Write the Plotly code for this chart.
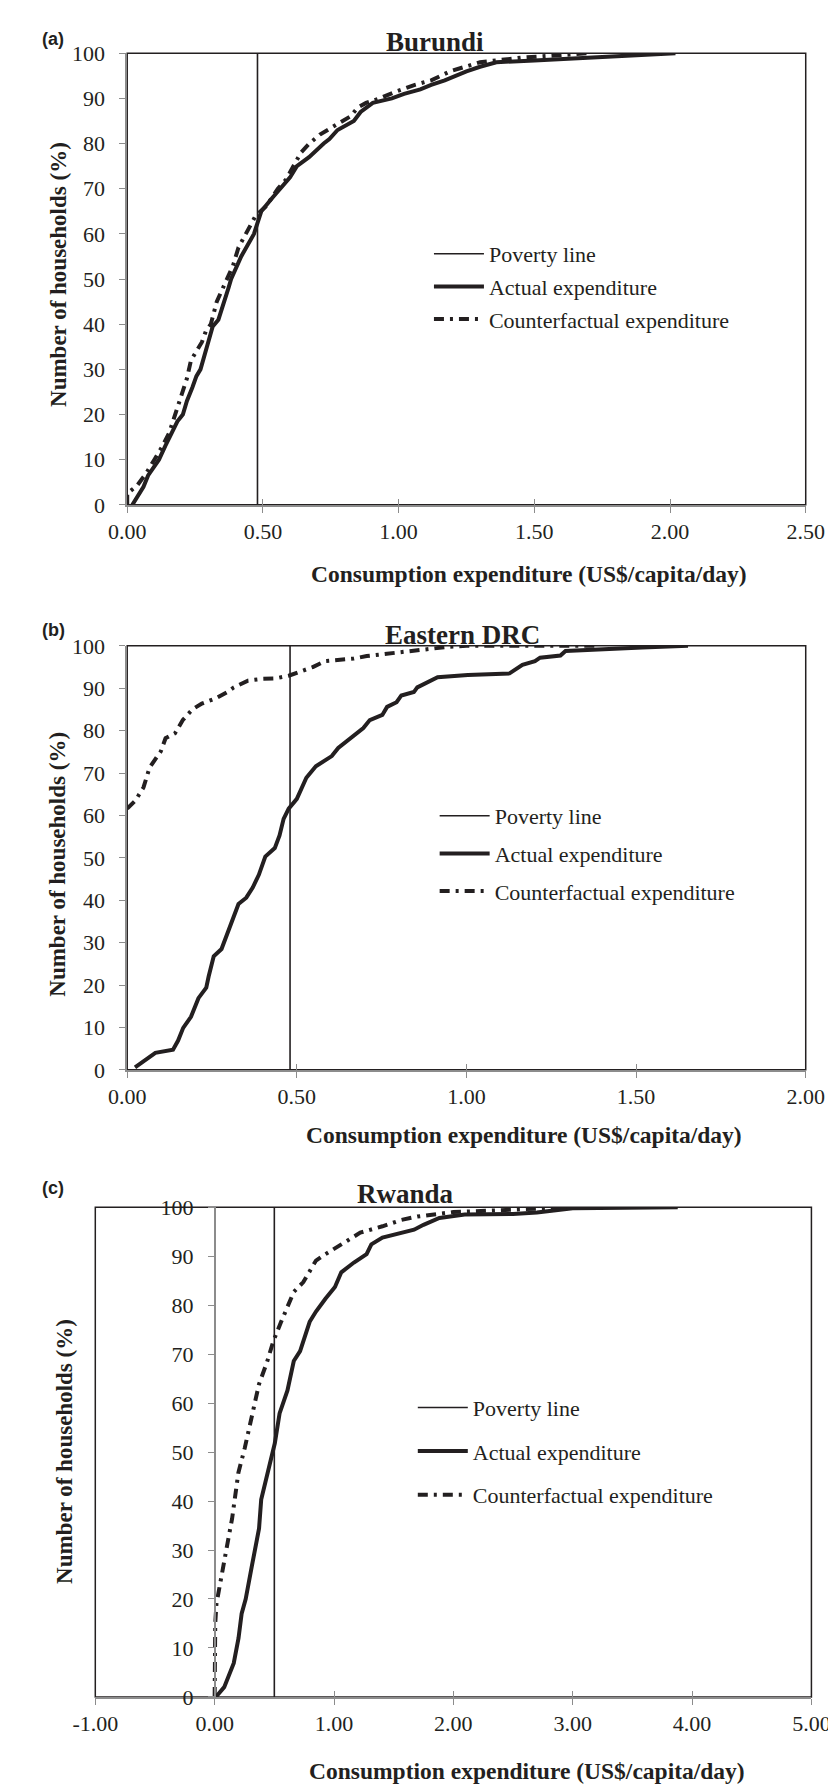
import plotly.graph_objects as go

W, H = 836, 1790
INK = "#231f20"
GRAY = "#8c8c8c"
SERIF = "Liberation Serif"

# ---------------- data ----------------
poverty_line = [0.48, 0.48, 0.50]

bur_act_x = [0.019, 0.04, 0.06, 0.077, 0.095, 0.117, 0.14, 0.165, 0.185, 0.205, 0.22, 0.24, 0.255, 0.27, 0.285,
             0.30, 0.315, 0.336, 0.355, 0.373, 0.383, 0.42, 0.467, 0.494, 0.535, 0.566, 0.60, 0.625, 0.67, 0.724,
             0.745, 0.775, 0.835, 0.86, 0.905, 0.975, 1.02, 1.08, 1.12, 1.17, 1.25, 1.30, 1.36, 1.50, 1.68, 1.85, 2.02]
bur_act_y = [0, 2, 4, 6.5, 8, 10, 13, 16, 18.5, 20, 23, 26, 28.5, 30, 33,
             36, 39.5, 41, 45, 48, 50, 55, 60, 65, 68, 70, 72.5, 75, 77, 80,
             81, 83, 85, 87, 89, 90, 91, 92, 93, 94, 96, 97, 98, 98.4, 99, 99.6, 100]
bur_cf_x = [0, 0, 0.037, 0.07, 0.10, 0.13, 0.155, 0.177, 0.20, 0.22, 0.235, 0.255, 0.275, 0.29, 0.308, 0.33,
            0.36, 0.368, 0.39, 0.41, 0.438, 0.455, 0.473, 0.51, 0.555, 0.585, 0.613, 0.64, 0.671, 0.71, 0.752,
            0.79, 0.822, 0.85, 0.88, 0.93, 0.99, 1.06, 1.12, 1.19, 1.25, 1.30, 1.45, 1.60, 1.70]
bur_cf_y = [0, 2.5, 4.3, 7, 10, 13, 16, 20, 24, 28, 32, 34, 36, 38.5, 40, 45,
            49, 50, 53, 57, 60, 62, 64, 66, 70, 72, 75, 78, 80, 82, 83.5,
            85, 86, 88, 89, 90, 91.5, 93, 94, 96, 97, 98, 99, 99.5, 100]

drc_act_x = [0.023, 0.06, 0.083, 0.135, 0.15, 0.165, 0.188, 0.21, 0.233, 0.24, 0.255, 0.278, 0.293, 0.316, 0.328,
             0.351, 0.37, 0.388, 0.407, 0.435, 0.449, 0.461, 0.476, 0.50, 0.519, 0.528, 0.556, 0.603, 0.622, 0.659,
             0.696, 0.715, 0.752, 0.766, 0.794, 0.808, 0.845, 0.855, 0.883, 0.915, 1.004, 1.127, 1.165, 1.202, 1.217,
             1.277, 1.292, 1.367, 1.518, 1.653]
drc_act_y = [0.6, 2.6, 4.0, 4.75, 6.9, 9.9, 12.5, 16.9, 19.4, 22, 26.8, 28.5, 31.5, 36.3, 39.1,
             40.6, 43, 46, 50.3, 52.3, 55.3, 59.2, 61.6, 63.9, 67, 68.9, 71.6, 74, 75.9, 78.2,
             80.6, 82.5, 83.7, 85.6, 86.7, 88.3, 89.1, 90.2, 91.4, 92.6, 93.1, 93.5, 95.5, 96.4, 97.2,
             97.7, 98.8, 99.1, 99.6, 100]
drc_cf_x = [0, 0.024, 0.048, 0.066, 0.099, 0.113, 0.141, 0.164, 0.192, 0.22, 0.258, 0.295, 0.314, 0.356, 0.398,
            0.435, 0.476, 0.519, 0.547, 0.584, 0.631, 0.668, 0.706, 0.752, 0.827, 0.892, 0.95, 1.0, 1.38]
drc_cf_y = [61.6, 63.5, 66.6, 71.3, 75.1, 78.2, 79.4, 82.5, 85, 86.4, 87.5, 89.1, 90.2, 91.8, 92.2,
            92.3, 92.95, 94.1, 95, 96.4, 96.8, 97, 97.6, 98, 98.8, 99.4, 99.8, 100, 100]

rwa_act_x = [0.01, 0.08, 0.16, 0.20, 0.226, 0.26, 0.31, 0.35, 0.372, 0.39, 0.411, 0.45, 0.464, 0.504, 0.544,
             0.61, 0.663, 0.716, 0.796, 0.849, 0.928, 1.008, 1.061, 1.167, 1.273, 1.313, 1.406, 1.512, 1.671,
             1.75, 1.883, 2.095, 2.50, 2.70, 3.00, 3.88]
rwa_act_y = [0, 2, 6.9, 12, 17, 20, 26.5, 32.2, 34.4, 40.3, 42.4, 47, 47.8, 51.8, 57.9,
             62.6, 68.6, 70.6, 76.6, 78.7, 81.3, 83.7, 86.7, 88.7, 90.4, 92.4, 93.8, 94.4, 95.4,
             96.4, 97.8, 98.5, 98.6, 98.9, 99.8, 100]
rwa_cf_x = [0, 0, 0.002, 0.005, 0.015, 0.05, 0.09, 0.12, 0.146, 0.173, 0.199, 0.252, 0.292, 0.332, 0.372,
            0.438, 0.491, 0.557, 0.61, 0.663, 0.743, 0.809, 0.849, 0.928, 1.061, 1.22, 1.406, 1.565, 1.698,
            1.857, 2.0, 2.3, 2.7, 3.0]
rwa_cf_y = [0, 5, 10, 15, 19, 24, 29, 33, 36.4, 41.8, 45.8, 50.8, 55.2, 59.5, 63.9,
            68.3, 72.6, 76.6, 79.7, 82.7, 84.7, 87.4, 89.1, 90.4, 92.4, 94.8, 96.1, 97.4, 98.1,
            98.5, 99, 99.3, 99.7, 100]

panel_titles = ["Burundi", "Eastern DRC", "Rwanda"]
panel_tags = ["(a)", "(b)", "(c)"]
x_ranges = [[0, 2.5], [0, 2.0], [-1, 5]]
x_ticks = [[0, 0.5, 1.0, 1.5, 2.0, 2.5], [0, 0.5, 1.0, 1.5, 2.0], [-1, 0, 1, 2, 3, 4, 5]]
y_ticks = list(range(0, 101, 10))
series_names = ["Poverty line", "Actual expenditure", "Counterfactual expenditure"]
x_title = "Consumption expenditure (US$/capita/day)"
y_title = "Number of households (%)"

curves = [(bur_act_x, bur_act_y, bur_cf_x, bur_cf_y),
          (drc_act_x, drc_act_y, drc_cf_x, drc_cf_y),
          (rwa_act_x, rwa_act_y, rwa_cf_x, rwa_cf_y)]

# ---------------- layout geometry (pixels) ----------------
plot_px = [  # left, right, top, bottom
    (101.3, 815.7, 33.7, 491.7),
    (101.3, 815.7, 634.7, 1064.7),
    (67.7, 821.7, 1204.0, 1700.7),
]
legend_px = [(419, 216, 1), (425, 786, 6), (402, 1386, 12)]
title_px = [(425, 40), (454, 641), (394, 1208)]
tag_px = [(10, 19), (10, 619), (10, 1185)]
ytitle_px = [(29, 258), (27, 856), (36, 1452)]
xtitle_px = [(524, 562), (519, 1131), (522, 1776)]

fx = lambda px: px / W
fy = lambda py: 1 - py / H

fig = go.Figure()
layout = dict(width=W, height=H, margin=dict(l=0, r=0, t=0, b=0), autosize=False,
              paper_bgcolor="white", plot_bgcolor="white", showlegend=True,
              font=dict(family=SERIF, size=22, color=INK))
shapes, annotations = [], []

for i in range(3):
    n = i + 1
    sfx = "" if n == 1 else str(n)
    xa, ya = "x" + sfx, "y" + sfx
    ov = "x" + str(n + 3)
    leg = "legend" + sfx
    l, r, t, b = plot_px[i]
    ax, ay, cfx, cfy = curves[i]
    pl = poverty_line[i]

    fig.add_trace(go.Scatter(x=[pl, pl], y=[0, 100], mode="lines", name=series_names[0],
                             line=dict(color=INK, width=1.6), xaxis=ov, yaxis=ya,
                             legend=leg, legendgroup=f"p{n}a", hoverinfo="skip"))
    fig.add_trace(go.Scatter(x=ax, y=ay, mode="lines", name=series_names[1],
                             line=dict(color=INK, width=4), xaxis=xa, yaxis=ya,
                             legend=leg, legendgroup=f"p{n}b"))
    fig.add_trace(go.Scatter(x=cfx, y=cfy, mode="lines", name=series_names[2],
                             line=dict(color=INK, width=4, dash="10px,6px,3px,6px"),
                             xaxis=xa, yaxis=ya, legend=leg, legendgroup=f"p{n}c"))

    tickfont = dict(family=SERIF, size=22, color=INK)
    layout["xaxis" + sfx] = dict(domain=[fx(l), fx(r)], range=x_ranges[i], anchor=ya,
                                 tickvals=x_ticks[i], ticktext=[f"{v:.2f}" for v in x_ticks[i]],
                                 showline=True, linecolor=GRAY, linewidth=2,
                                 ticks="outside", ticklen=6, tickcolor=GRAY, tickwidth=1.2,
                                 showgrid=False, zeroline=False, tickfont=tickfont,
                                 ticklabelstandoff=0, fixedrange=True)
    layout["xaxis" + str(n + 3)] = dict(domain=[fx(l), fx(r)], range=x_ranges[i], anchor=ya,
                                        overlaying=xa, tickvals=x_ticks[i],
                                        showticklabels=False, showline=False,
                                        ticks="inside", ticklen=6, tickcolor=GRAY, tickwidth=1.2,
                                        showgrid=False, zeroline=False, fixedrange=True)
    yd = dict(domain=[fy(b), fy(t)], range=[0, 100], tickvals=y_ticks,
              showline=True, linecolor=GRAY, linewidth=1.5,
              ticks="outside", ticklen=6, tickcolor=GRAY, tickwidth=1.2,
              showgrid=False, zeroline=False, tickfont=tickfont,
              ticklabelstandoff=10, fixedrange=True)
    if i == 2:
        yd.update(anchor="free", position=fx(l + (0 - x_ranges[i][0]) / (x_ranges[i][1] - x_ranges[i][0]) * (r - l)))
    else:
        yd.update(anchor=xa)
    layout["yaxis" + sfx] = yd

    # black plot frame
    shapes.append(dict(type="rect", xref=xa + " domain", yref=ya + " domain", x0=0, x1=1, y0=0, y1=1,
                       line=dict(color=INK, width=1.5), layer="below"))

    lx, ly, gap = legend_px[i]
    layout[leg] = dict(x=fx(lx), y=fy(ly), xanchor="left", yanchor="top",
                       bgcolor="rgba(0,0,0,0)", borderwidth=0, itemwidth=50,
                       font=dict(family=SERIF, size=22, color=INK),
                       traceorder="grouped", tracegroupgap=gap)

    tx, ty = title_px[i]
    annotations.append(dict(text="<b>" + panel_titles[i] + "</b>", x=fx(tx), y=fy(ty),
                            xref="paper", yref="paper", xanchor="center", yanchor="bottom",
                            showarrow=False, font=dict(family=SERIF, size=27, color=INK)))
    gx, gy = tag_px[i]
    annotations.append(dict(text="<b>" + panel_tags[i] + "</b>", x=fx(gx), y=fy(gy),
                            xref="paper", yref="paper", xanchor="left", yanchor="middle",
                            showarrow=False, font=dict(family="Liberation Sans", size=18, color=INK)))
    yx, yy = ytitle_px[i]
    annotations.append(dict(text="<b>" + y_title + "</b>", x=fx(yx), y=fy(yy), textangle=-90,
                            xref="paper", yref="paper", xanchor="center", yanchor="middle",
                            showarrow=False, font=dict(family=SERIF, size=23, color=INK)))
    xx, xy = xtitle_px[i]
    annotations.append(dict(text="<b>" + x_title + "</b>", x=fx(xx), y=fy(xy),
                            xref="paper", yref="paper", xanchor="center", yanchor="middle",
                            showarrow=False, font=dict(family=SERIF, size=23.5, color=INK)))

layout["shapes"] = shapes
layout["annotations"] = annotations
fig.update_layout(**layout)
fig.write_html("out.html")
